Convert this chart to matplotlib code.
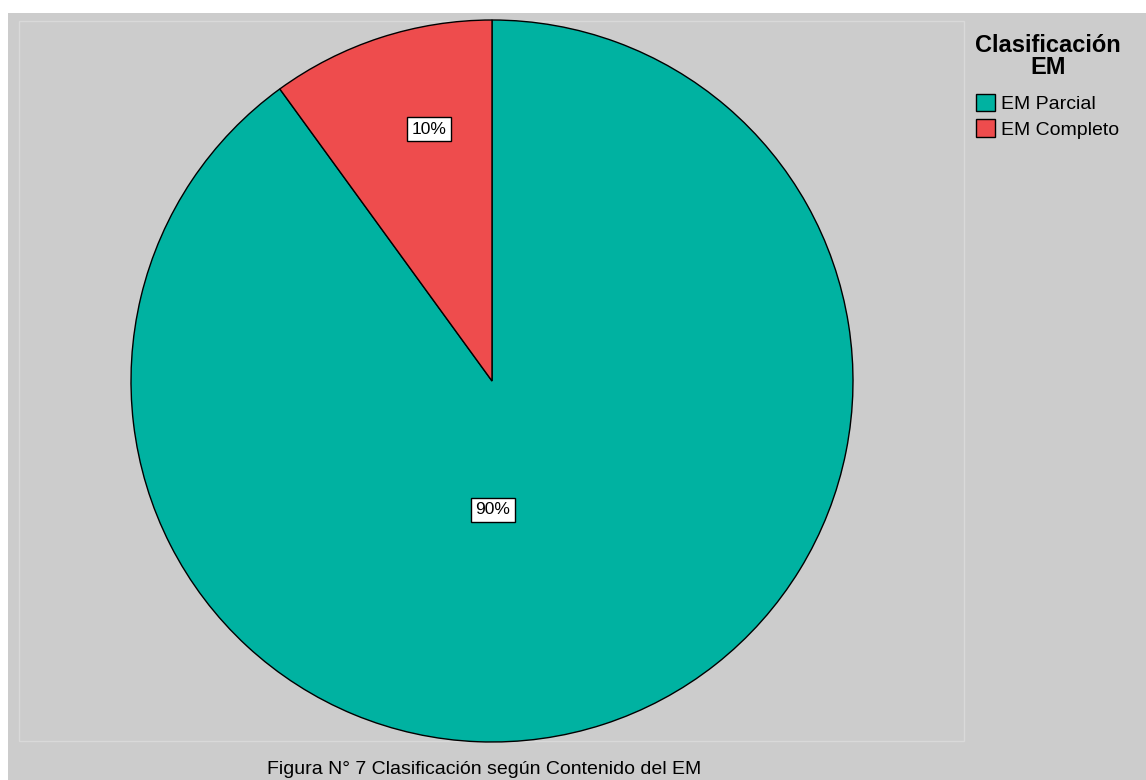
import matplotlib.pyplot as plt
from matplotlib.patches import Rectangle

plt.rcParams['font.family'] = ['Liberation Sans', 'DejaVu Sans']

# Datos del grafico
categorias = ["EM Parcial", "EM Completo"]
porcentajes = [90, 10]
etiquetas = ["90%", "10%"]
colores = ["#00B2A1", "#EE4C4D"]

# Figura en pixeles: 1146 x 780
fig = plt.figure(figsize=(11.46, 7.80), dpi=100)
fig.patch.set_facecolor("#CCCCCC")
ax = fig.add_axes([0, 0, 1, 1])

# Franjas blancas arriba y a la izquierda
ax.add_patch(Rectangle((0, 767), 1146, 13, facecolor="white", edgecolor="none", zorder=0))
ax.add_patch(Rectangle((0, 0), 8, 780, facecolor="white", edgecolor="none", zorder=0))

# Marco interior
ax.add_patch(Rectangle((19, 39), 945, 720, facecolor="none", edgecolor="#D9D9D9", lw=1, zorder=1))

# Pastel
wedges, _ = ax.pie(porcentajes, colors=colores, startangle=126, counterclock=True,
                   center=(492, 399), radius=361,
                   wedgeprops=dict(edgecolor="black", linewidth=1), frame=True)
ax.set_xlim(0, 1146)
ax.set_ylim(0, 780)
ax.set_aspect("equal")
ax.axis("off")

# Etiquetas de porcentaje
pos_etiquetas = [(493, 270), (429, 651)]
for txt, (x, y) in zip(etiquetas, pos_etiquetas):
    ax.text(x, y, txt, ha="center", va="center", fontsize=12.5, zorder=5,
            bbox=dict(boxstyle="square,pad=0.25", facecolor="white", edgecolor="black", lw=1))

# Titulo de la leyenda
fig.text(1048 / 1146, 1 - 34 / 780, "Clasificación\nEM", ha="center", va="top",
         fontsize=17, weight="bold", linespacing=0.95, multialignment="center")

# Leyenda
leg = ax.legend(wedges, categorias, loc="upper left",
                bbox_to_anchor=(976 / 1146, 1 - 94 / 780), bbox_transform=fig.transFigure,
                frameon=False, fontsize=14, handlelength=1.0, handleheight=1.0,
                handletextpad=0.3, labelspacing=0.3, borderpad=0, borderaxespad=0)
for h in leg.legend_handles:
    h.set_edgecolor("black")
    h.set_linewidth(1)

# Pie de figura
fig.text(484 / 1146, 1 - 769 / 780, "Figura N° 7 Clasificación según Contenido del EM",
         ha="center", va="center", fontsize=14)

fig.savefig("out.png", dpi=100, facecolor=fig.get_facecolor())
